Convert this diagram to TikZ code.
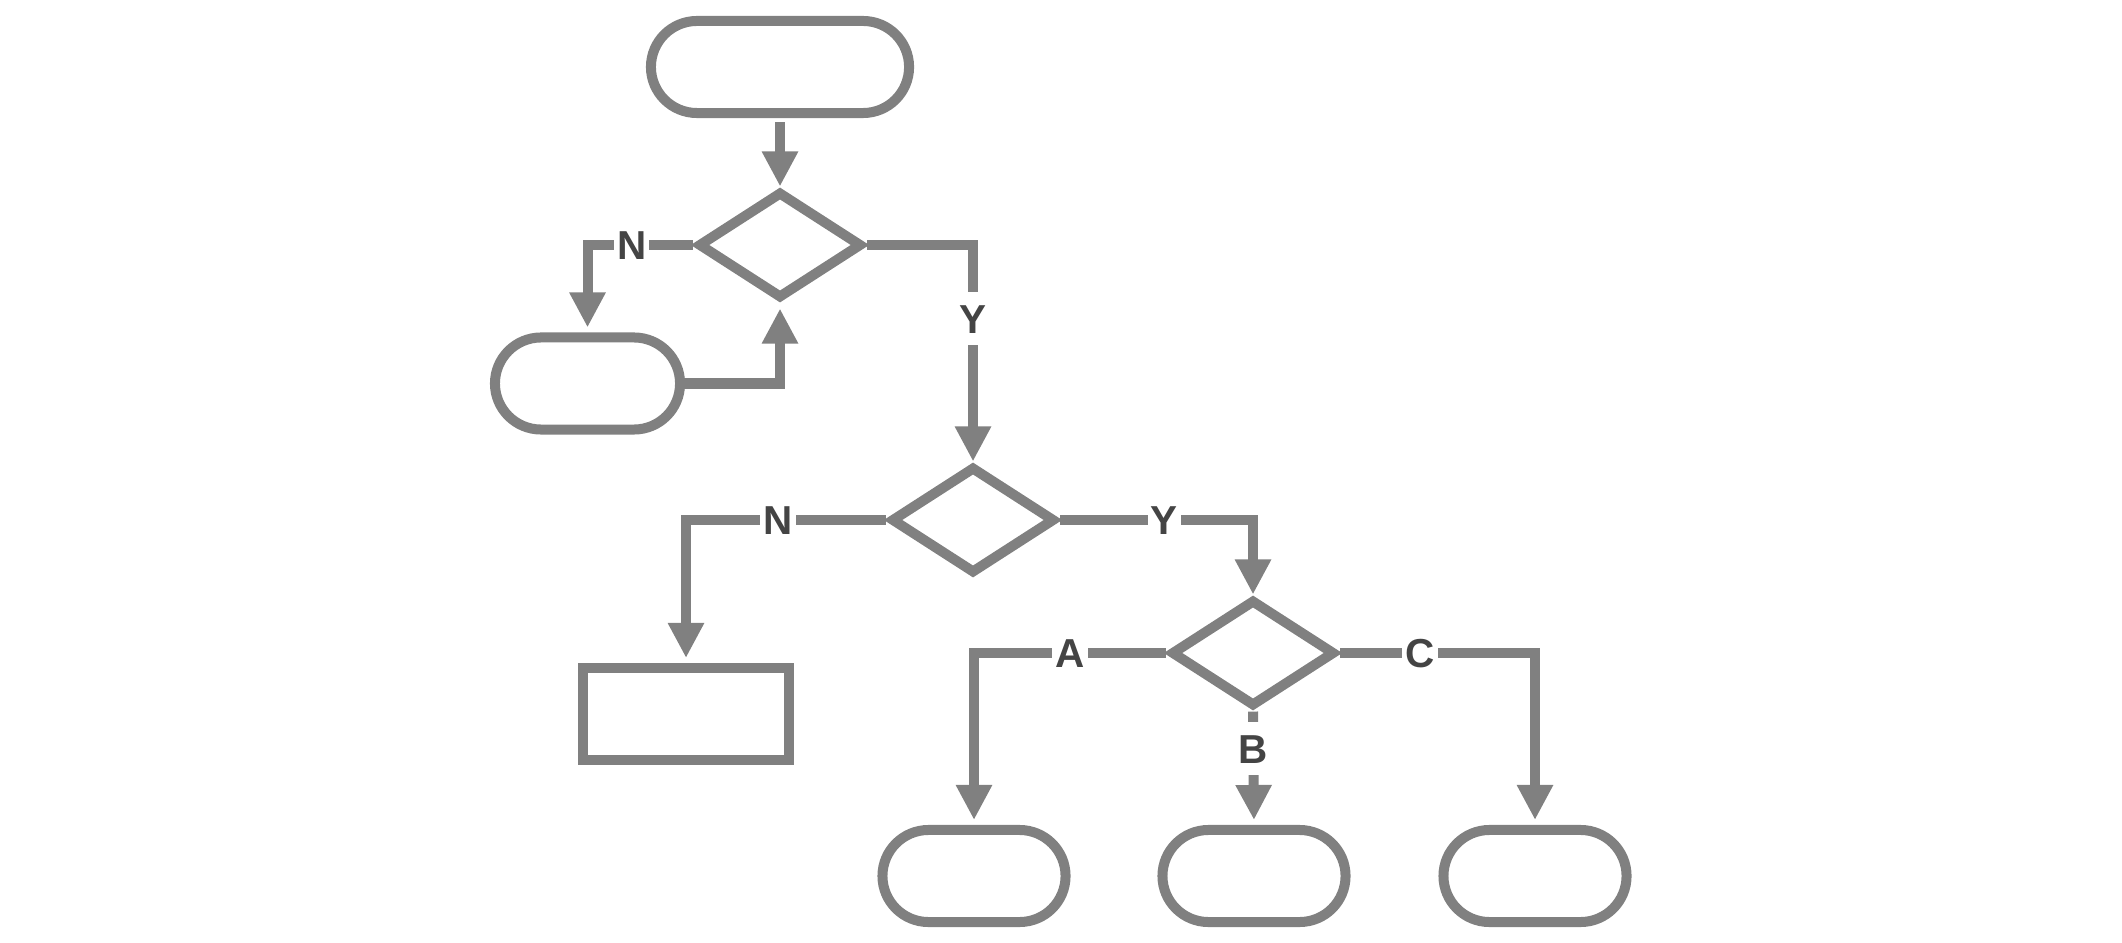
\documentclass[tikz,border=0pt]{standalone}
\usepackage{fontspec}
\setmainfont{Liberation Sans}
\usetikzlibrary{arrows.meta,shapes.geometric,shapes.misc}
\definecolor{linegray}{HTML}{808080}
\definecolor{taggray}{HTML}{444444}

\begin{document}
\begin{tikzpicture}[x=0.01cm,y=0.01cm,
  flow/.style={draw=linegray,line width=0.1cm,
    -{Triangle[length=0.35cm,width=0.34cm]}},
  gap/.style={shorten >=0.05cm},
  terminal/.style={draw=linegray,line width=0.1cm,rounded rectangle,
    minimum width=#1,minimum height=0.92cm,inner sep=0pt},
  decision/.style={draw=linegray,line width=0.1cm,diamond,
    minimum width=1.64cm,minimum height=1.07cm,inner sep=0pt},
  process/.style={draw=linegray,line width=0.1cm,rectangle,
    minimum width=2.06cm,minimum height=0.92cm,inner sep=0pt},
  tag/.style={fill=white,text=taggray,font=\fontsize{11.5}{13}\selectfont\bfseries,
    inner xsep=0.03cm,inner ysep=0.12cm,text height=0.29cm,text depth=0cm}]

\useasboundingbox (0,0) rectangle (2122,942);

% Shapes of the chart.
\node[terminal=2.58cm] (start) at (780,875) {};
\node[decision] (check1) at (780,697) {};
\node[terminal=1.85cm] (retry) at (587.5,558.5) {};
\node[decision] (check2) at (973,422) {};
\node[process] (stop) at (686,228) {};
\node[decision] (choice) at (1253,289) {};
\node[terminal=1.83cm] (endA) at (974,66) {};
\node[terminal=1.83cm] (endB) at (1254,66) {};
\node[terminal=1.83cm] (endC) at (1535,66) {};

% Connectors.
\draw[flow,shorten <=0.04cm] (start.south) -- (check1.north);
\draw[flow,gap] (check1.west) -| node[tag,pos=0.29] {N} (retry.north);
\draw[flow,gap] (retry.east) -| (check1.south);
\draw[flow] (check1.east) -| node[tag,pos=0.67] {Y} (check2.north);
\draw[flow,gap] (check2.west) -| node[tag,pos=0.27] {N} (stop.north);
\draw[flow] (check2.east) -| node[tag,pos=0.27] {Y} (choice.north);
\draw[flow,gap] (choice.west) -| node[tag,pos=0.25] {A} (endA.north);
\draw[flow,gap] (choice.south) -- node[tag,pos=0.33] {B} (endB.north);
\draw[flow,gap] (choice.east) -| node[tag,pos=0.205] {C} (endC.north);
\end{tikzpicture}
\end{document}
